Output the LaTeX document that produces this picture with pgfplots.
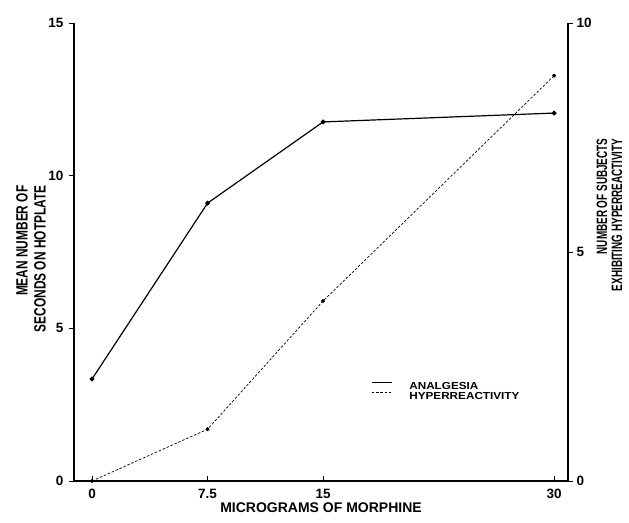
\documentclass[border=0pt]{standalone}
\usepackage{fontspec}
\setmainfont{Liberation Sans}
\newfontfamily\yfontL[FakeStretch=0.73]{Liberation Sans}
\newfontfamily\yfontR[FakeStretch=0.66]{Liberation Sans}
\newfontfamily\legfont[FakeStretch=1.15]{Liberation Sans}
\usepackage{pgfplots}
\pgfplotsset{compat=1.18}
\begin{document}
\begin{tikzpicture}
\useasboundingbox (0,0) rectangle (629pt,522pt);
\pgfplotsset{
  common/.style={
    at={(74pt,41pt)}, anchor=south west,
    scale only axis, width=494pt, height=458pt,
    xmin=-1.17, xmax=30.9,
    clip=false,
    /pgf/number format/assume math mode=true,
    axis line style={line width=1.1pt, -},
    every outer x axis line/.append style={-},
    every outer y axis line/.append style={-},
    tick style={line width=0.9pt, black},
    major tick length=5pt,
    tick align=outside,
    tick label style={font=\fontsize{13.5}{15}\selectfont\bfseries},
  }
}
\begin{axis}[common,
  axis x line*=bottom, axis y line*=left,
  ymin=0, ymax=15, ytick={0,5,10,15},
  xtick={0,7.5,15,30}, xticklabels={0,7.5,15,30},
  xtick style={yshift=5pt},
  xticklabel style={yshift=0pt},
  yticklabel style={xshift=-2pt},
  xlabel={MICROGRAMS OF MORPHINE},
  xlabel style={at={(axis description cs:0.5,0)}, anchor=north, yshift=-21.5pt, inner sep=0pt,
    font=\fontsize{14}{16}\selectfont\bfseries},
  ylabel={MEAN NUMBER OF\\SECONDS ON HOTPLATE},
  ylabel style={at={(axis description cs:-0.087,0.485)}, anchor=center, align=right, inner sep=0pt,
    font=\yfontL\fontsize{16.3}{18}\selectfont\bfseries},
  legend style={draw=none, fill=none, at={(axis description cs:0.595,0.222)}, anchor=north west,
    font=\legfont\fontsize{10.2}{10}\selectfont\bfseries,
    nodes={inner sep=0pt, text height=7.3pt, text depth=0pt},
    row sep=3pt,
    /tikz/every odd column/.append style={column sep=17pt}},
  legend cell align=left,
  legend image code/.code={\draw[#1] (0pt,3.6pt) -- (20pt,3.6pt);},
]
\addplot[black, line width=1.2pt, mark=*, mark size=1.8pt, mark options={solid}]
  coordinates {(0,3.34) (7.5,9.1) (15,11.76) (30,12.05)};
\addlegendentry{ANALGESIA}
\addlegendimage{black, line width=0.7pt, dash pattern=on 2.5pt off 1.8pt}
\addlegendentry{HYPERREACTIVITY}
\end{axis}
\begin{axis}[common,
  axis x line=none, axis y line*=right,
  ymin=0, ymax=10, ytick={0,5,10},
  yticklabel style={xshift=0pt},
  ylabel={NUMBER OF SUBJECTS\\EXHIBITING HYPERREACTIVITY},
  ylabel style={at={(axis description cs:1.084,0.581)}, anchor=center, align=right, inner sep=0pt, rotate=0,
    font=\yfontR\fontsize{15}{15}\selectfont\bfseries},
]
\addplot[black, line width=0.7pt, dash pattern=on 2.5pt off 1.8pt, mark=*, mark size=1.6pt, mark options={solid}]
  coordinates {(0,0) (7.5,1.13) (15,3.93) (30,8.85)};
\end{axis}
\end{tikzpicture}
\end{document}
